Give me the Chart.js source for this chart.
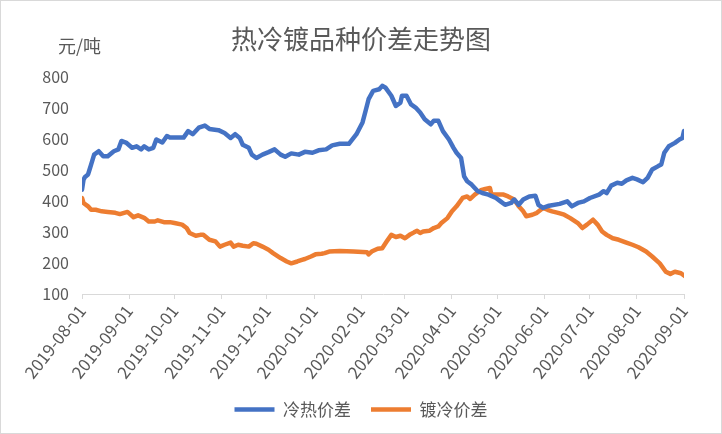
<!DOCTYPE html>
<html>
<head>
<meta charset="utf-8">
<script src="https://cdn.jsdelivr.net/npm/chart.js@4/dist/chart.umd.min.js"></script>
<style>
  html, body { margin: 0; padding: 0; background: #fff; }
  #wrap { width: 722px; height: 434px; }
</style>
</head>
<body>
<div id="wrap"><canvas id="chart" width="722" height="434"></canvas></div>
<script>
// 冷热价差 (蓝)
const hotColdDates = [
  '2019-08-01','2019-08-02','2019-08-03','2019-08-05','2019-08-06','2019-08-07','2019-08-09','2019-08-12',
  '2019-08-15','2019-08-18','2019-08-22','2019-08-25','2019-08-27','2019-08-30','2019-09-03','2019-09-06',
  '2019-09-09','2019-09-11','2019-09-14','2019-09-17','2019-09-19','2019-09-23','2019-09-26','2019-09-28',
  '2019-10-01','2019-10-07','2019-10-10','2019-10-13','2019-10-17','2019-10-21','2019-10-24','2019-10-30',
  '2019-11-03','2019-11-07','2019-11-10','2019-11-13','2019-11-15','2019-11-19','2019-11-21','2019-11-24',
  '2019-11-28','2019-12-02','2019-12-06','2019-12-10','2019-12-13','2019-12-17','2019-12-22','2019-12-26',
  '2019-12-31','2020-01-04','2020-01-09','2020-01-13','2020-01-18','2020-01-24','2020-01-29','2020-02-02',
  '2020-02-04','2020-02-06','2020-02-09','2020-02-13','2020-02-15','2020-02-17','2020-02-21','2020-02-24',
  '2020-02-27','2020-02-28','2020-03-02','2020-03-05','2020-03-08','2020-03-11','2020-03-14','2020-03-18',
  '2020-03-20','2020-03-23','2020-03-26','2020-03-30','2020-04-02','2020-04-04','2020-04-07','2020-04-09',
  '2020-04-11','2020-04-14','2020-04-18','2020-04-21','2020-04-25','2020-04-30','2020-05-03','2020-05-06',
  '2020-05-10','2020-05-12','2020-05-15','2020-05-18','2020-05-22','2020-05-26','2020-05-28','2020-05-31',
  '2020-06-04','2020-06-11','2020-06-16','2020-06-19','2020-06-23','2020-06-27','2020-07-01','2020-07-07',
  '2020-07-10','2020-07-12','2020-07-15','2020-07-19','2020-07-22','2020-07-25','2020-07-29','2020-08-01',
  '2020-08-05','2020-08-08','2020-08-11','2020-08-15','2020-08-17','2020-08-19','2020-08-22','2020-08-26',
  '2020-08-29','2020-08-31','2020-09-01','2020-09-02'
];
const hotColdValues = [
  437, 469, 478, 486, 502, 518, 550, 561,
  545, 545, 561, 567, 594, 589, 572, 577,
  567, 577, 567, 572, 599, 589, 610, 605,
  605, 605, 626, 616, 637, 644, 633, 629,
  620, 604, 616, 604, 582, 572, 550, 539,
  550, 558, 567, 550, 543, 554, 550, 559,
  556, 564, 567, 580, 585, 585, 616, 654,
  691, 729, 756, 761, 772, 767, 740, 707,
  718, 740, 740, 712, 702, 686, 664, 648,
  659, 659, 626, 599, 572, 556, 539, 480,
  464, 453, 432, 426, 421, 410, 399, 388,
  394, 405, 388, 405, 415, 417, 388, 378,
  385, 391, 399, 383, 394, 399, 410, 421,
  432, 426, 450, 459, 456, 467, 475, 470,
  461, 475, 502, 513, 518, 556, 577, 588,
  599, 604, 626, 637
];

// 镀冷价差 (橙)
const galvColdDates = [
  '2019-08-01','2019-08-02','2019-08-05','2019-08-07','2019-08-10','2019-08-14','2019-08-18','2019-08-23',
  '2019-08-26','2019-08-31','2019-09-04','2019-09-07','2019-09-11','2019-09-14','2019-09-18','2019-09-20',
  '2019-09-24','2019-09-28','2019-10-01','2019-10-06','2019-10-09','2019-10-11','2019-10-15','2019-10-18',
  '2019-10-20','2019-10-24','2019-10-28','2019-10-31','2019-11-03','2019-11-07','2019-11-09','2019-11-12',
  '2019-11-15','2019-11-19','2019-11-22','2019-11-24','2019-11-28','2019-12-02','2019-12-05','2019-12-10',
  '2019-12-14','2019-12-17','2019-12-21','2019-12-24','2019-12-26','2019-12-30','2020-01-02','2020-01-06',
  '2020-01-08','2020-01-11','2020-01-18','2020-01-27','2020-02-05','2020-02-06','2020-02-08','2020-02-12',
  '2020-02-15','2020-02-18','2020-02-21','2020-02-24','2020-02-27','2020-03-01','2020-03-04','2020-03-07',
  '2020-03-09','2020-03-11','2020-03-13','2020-03-17','2020-03-20','2020-03-23','2020-03-25','2020-03-29',
  '2020-04-01','2020-04-04','2020-04-08','2020-04-11','2020-04-13','2020-04-16','2020-04-20','2020-04-23',
  '2020-04-26','2020-04-27','2020-05-01','2020-05-05','2020-05-08','2020-05-12','2020-05-15','2020-05-18',
  '2020-05-20','2020-05-24','2020-05-27','2020-05-31','2020-06-03','2020-06-06','2020-06-10','2020-06-14',
  '2020-06-18','2020-06-23','2020-06-26','2020-06-29','2020-07-03','2020-07-06','2020-07-09','2020-07-12',
  '2020-07-16','2020-07-20','2020-07-25','2020-07-29','2020-08-02','2020-08-07','2020-08-11','2020-08-16',
  '2020-08-20','2020-08-23','2020-08-26','2020-08-30','2020-09-02'
];
const galvColdValues = [
  410, 394, 383, 372, 372, 367, 365, 362,
  358, 365, 348, 354, 346, 334, 334, 338,
  332, 332, 329, 324, 313, 297, 288, 291,
  291, 275, 270, 253, 259, 266, 253, 259,
  256, 253, 264, 262, 253, 243, 232, 216,
  205, 199, 205, 210, 213, 221, 228, 230,
  232, 237, 239, 237, 235, 228, 237, 246,
  248, 270, 291, 284, 288, 280, 291, 299,
  304, 297, 302, 304, 313, 318, 329, 345,
  367, 383, 410, 415, 407, 421, 435, 439,
  442, 421, 421, 421, 415, 405, 383, 367,
  351, 356, 362, 378, 372, 367, 362, 356,
  345, 329, 313, 324, 340, 324, 302, 291,
  280, 275, 266, 259, 251, 237, 221, 199,
  172, 165, 172, 167, 156
];

const monthLabels = [
  '2019-08-01','2019-09-01','2019-10-01','2019-11-01','2019-12-01','2020-01-01','2020-02-01',
  '2020-03-01','2020-04-01','2020-05-01','2020-06-01','2020-07-01','2020-08-01','2020-09-01'
];

const TEXT = '#595959';
const FONT = "'Noto Sans CJK SC', 'Liberation Sans', sans-serif";

// 日期 -> 距 2019-08-01 的天数
function dayOffset(s) {
  const [y, m, d] = s.split('-').map(Number);
  return (Date.UTC(y, m - 1, d) - Date.UTC(2019, 7, 1)) / 86400000;
}
const toPoints = (dates, vals) => dates.map((d, i) => ({ x: dayOffset(d), y: vals[i] }));
const monthTicks = monthLabels.map(dayOffset);

// 背景、外框和左上角单位
const decor = {
  id: 'decor',
  beforeDraw(chart) {
    const ctx = chart.ctx;
    ctx.save();
    ctx.fillStyle = '#fff';
    ctx.fillRect(0, 0, chart.width, chart.height);
    ctx.strokeStyle = '#d9d9d9';
    ctx.lineWidth = 1;
    ctx.strokeRect(0.5, 0.5, chart.width - 1, chart.height - 1);
    ctx.restore();
  },
  afterDraw(chart) {
    const ctx = chart.ctx;
    ctx.save();
    ctx.fillStyle = TEXT;
    ctx.font = "18px " + FONT;
    ctx.textBaseline = 'middle';
    ctx.fillText('元/吨', 58, 46);
    ctx.restore();
  }
};

new Chart(document.getElementById('chart'), {
  type: 'line',
  data: {
    datasets: [
      {
        label: '冷热价差',
        data: toPoints(hotColdDates, hotColdValues),
        borderColor: '#4472C4',
        backgroundColor: '#4472C4',
        borderWidth: 4.5,
        pointRadius: 0,
        tension: 0,
        borderJoinStyle: 'round',
        borderCapStyle: 'round'
      },
      {
        label: '镀冷价差',
        data: toPoints(galvColdDates, galvColdValues),
        borderColor: '#ED7D31',
        backgroundColor: '#ED7D31',
        borderWidth: 4.5,
        pointRadius: 0,
        tension: 0,
        borderJoinStyle: 'round',
        borderCapStyle: 'round'
      }
    ]
  },
  options: {
    responsive: false,
    animation: false,
    layout: { padding: { left: 0, right: 0, top: 0, bottom: 6 } },
    scales: {
      x: {
        type: 'linear',
        min: 0,
        max: dayOffset('2020-09-01'),
        afterBuildTicks: scale => { scale.ticks = monthTicks.map(v => ({ value: v })); },
        afterFit: scale => { scale.height = 87; },
        grid: { drawOnChartArea: false, drawTicks: true, tickLength: 5, color: '#d9d9d9' },
        border: { color: '#d9d9d9', width: 1 },
        ticks: {
          autoSkip: false,
          minRotation: 52,
          maxRotation: 52,
          padding: 2,
          color: TEXT,
          font: { family: FONT, size: 17 },
          callback: (v, i) => monthLabels[i]
        }
      },
      y: {
        min: 100,
        max: 800,
        afterFit: scale => { scale.width = 82; },
        grid: { display: false },
        border: { display: false },
        ticks: {
          stepSize: 100,
          padding: 5,
          color: TEXT,
          font: { family: FONT, size: 16 }
        }
      },
      // 右侧留白，不显示
      yRight: {
        position: 'right',
        afterFit: scale => { scale.width = 38; },
        grid: { display: false },
        border: { display: false },
        ticks: { display: false }
      }
    },
    plugins: {
      title: {
        display: true,
        text: '热冷镀品种价差走势图',
        color: TEXT,
        font: { family: FONT, size: 26, weight: 'normal' },
        padding: { top: 24, bottom: 22 }
      },
      legend: {
        position: 'bottom',
        labels: {
          color: TEXT,
          font: { family: FONT, size: 17 },
          usePointStyle: true,
          pointStyle: 'line',
          pointStyleWidth: 40,
          padding: 20
        }
      },
      tooltip: { enabled: false }
    }
  },
  plugins: [decor]
});
</script>
</body>
</html>
